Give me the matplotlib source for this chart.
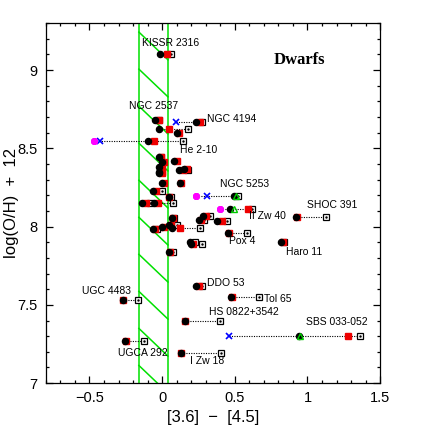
import numpy as np
import matplotlib
matplotlib.use("Agg")
import matplotlib.pyplot as plt
from matplotlib.ticker import MultipleLocator

nan = np.nan

# metallicity of each dwarf and its [3.6]-[4.5] colour from the different estimates
oh = [9.10, 8.68, 8.67, 8.625, 8.60, 8.55, 8.444, 8.42, 8.41, 8.38,
      8.36, 8.37, 8.35, 8.34, 8.28, 8.28, 8.23, 8.19, 8.15, 8.15,
      8.196, 8.111, 8.068, 8.043, 8.034, 8.06, 8.053, 8.01, 8.0, 7.993,
      7.985, 7.962, 7.90, 7.89, 7.90, 7.84, 7.62, 7.552, 7.398, 7.30,
      7.19, 7.53, 7.27]
col_black = [-0.014, -0.046, 0.232, -0.02, 0.10, -0.097, -0.025, 0.08, -0.002, -0.023,
             0.117, 0.15, -0.02, -0.025, 0.0, 0.12, -0.064, 0.045, -0.136, -0.057,
             0.494, 0.467, 0.278, 0.253, 0.379, 0.92, 0.065, 0.045, 0.0, 0.07,
             -0.06, 0.455, 0.191, 0.20, 0.82, 0.045, 0.232, 0.474, 0.154, 0.94,
             0.129, -0.271, -0.255]
col_red = [0.03, -0.023, 0.26, 0.044, 0.113, -0.055, -0.01, 0.099, 0.016, 0.0,
           0.145, 0.17, -0.003, 0.0, 0.012, 0.13, -0.04, 0.05, -0.11, -0.03,
           nan, 0.593, 0.30, 0.27, 0.409, 0.925, 0.075, 0.06, 0.015, 0.12,
           -0.05, 0.46, nan, 0.21, 0.83, 0.055, 0.255, 0.478, 0.158, 1.28,
           0.133, -0.266, -0.25]
col_open = [0.062, -0.02, 0.274, 0.18, nan, 0.145, -0.005, nan, nan, nan,
            0.18, nan, nan, nan, nan, nan, -0.003, 0.058, -0.085, 0.076,
            0.524, 0.621, 0.33, 0.29, 0.444, 1.13, 0.08, 0.10, nan, 0.26,
            -0.035, 0.582, 0.223, 0.271, 0.84, 0.078, 0.273, 0.67, 0.40, 1.36,
            0.402, -0.168, -0.124]
# extra estimates, only for a few galaxies
extra_oh = {"green": [8.196, 8.111, 7.30],
            "blue": [8.67, 8.55, 8.196, 7.30],
            "magenta": [8.55, 8.196, 8.111]}
extra_col = {"green": [0.51, 0.497, 0.95],
             "blue": [0.092, -0.425, 0.306, 0.46],
             "magenta": [-0.471, 0.232, 0.398]}

names = ["KISSR 2316", "NGC 2537", "NGC 4194", "He 2-10", "NGC 5253", "SHOC 391",
         "II Zw 40", "Pox 4", "Haro 11", "DDO 53", "Tol 65", "UGC 4483",
         "HS 0822+3542", "SBS 033-052", "UGCA 292", "I Zw 18"]
name_x = [-0.138, -0.23, 0.306, 0.122, 0.398, 0.995, 0.60, 0.457, 0.853, 0.306,
          0.703, -0.549, 0.324, 0.991, -0.303, 0.191]
name_y = [9.174, 8.768, 8.689, 8.491, 8.271, 8.141, 8.068, 7.908, 7.84, 7.637,
          7.537, 7.588, 7.456, 7.388, 7.195, 7.14]

band = (-0.16, 0.04)

fig = plt.figure(figsize=(4.29, 4.29), dpi=100)
ax = fig.add_axes([0.107, 0.107, 0.779, 0.839])

# green hatched band
for xb in band:
    ax.axvline(xb, color="#00e000", lw=1.1, zorder=1)
for k in range(11):
    y0 = 9.243 - k * 0.2367
    ax.plot(band, [y0, y0 - 0.177], color="#00e000", lw=1.1, zorder=1)

# dotted connectors
for i in range(len(oh)):
    xs = [col_black[i], col_red[i], col_open[i]]
    for key in extra_oh:
        for yy, xx in zip(extra_oh[key], extra_col[key]):
            if yy == oh[i]:
                xs.append(xx)
    xs = [v for v in xs if not np.isnan(v)]
    ax.plot([min(xs), max(xs)], [oh[i], oh[i]], ls=(0, (1, 1.2)), color="black",
            lw=0.8, zorder=2)

ax.plot(col_open, oh, ls="none", marker="s", ms=4.2, mfc="white", mec="black",
        mew=0.9, zorder=3)
ax.plot(col_open, oh, ls="none", marker=".", ms=1.5, color="black", zorder=3)
ax.plot(col_red, oh, ls="none", marker="s", ms=4.0, color="#ee0000", zorder=4)
ax.plot(col_black, oh, ls="none", marker="o", ms=4.4, color="black", zorder=5)
ax.plot(extra_col["green"], extra_oh["green"], ls="none", marker="^", ms=4.2,
        mfc="none", mec="#00cc00", mew=1.0, zorder=6)
ax.plot(extra_col["blue"], extra_oh["blue"], ls="none", marker="x", ms=4.2,
        color="blue", mew=1.2, zorder=6)
ax.plot(extra_col["magenta"], extra_oh["magenta"], ls="none", marker=(8, 2, 0),
        ms=5, color="magenta", mew=1.4, zorder=6)

for n, tx, ty in zip(names, name_x, name_y):
    ax.text(tx, ty, n, fontsize=7.5, family="Liberation Sans", ha="left",
            va="center", zorder=7)
ax.text(0.766, 9.067, "Dwarfs", fontsize=12, family="Liberation Serif",
        fontweight="bold", ha="left", va="center")

ax.set_xlim(-0.8, 1.5)
ax.set_ylim(7, 9.3)
ax.xaxis.set_major_locator(MultipleLocator(0.5))
ax.xaxis.set_minor_locator(MultipleLocator(0.1))
ax.yaxis.set_major_locator(MultipleLocator(0.5))
ax.yaxis.set_minor_locator(MultipleLocator(0.1))
ax.set_xticks([-0.5, 0, 0.5, 1, 1.5])
ax.set_xticklabels(["\u22120.5", "0", "0.5", "1", "1.5"])
ax.set_yticks([7, 7.5, 8, 8.5, 9])
ax.set_yticklabels(["7", "7.5", "8", "8.5", "9"])
ax.tick_params(which="both", direction="in", top=True, right=True, width=0.9)
ax.tick_params(which="major", length=5, pad=6, labelsize=10.5)
ax.tick_params(which="minor", length=2.5)
for lab in ax.get_xticklabels() + ax.get_yticklabels():
    lab.set_family("Liberation Sans")
for s in ax.spines.values():
    s.set_linewidth(0.9)

ax.set_xlabel("[3.6]  \u2212  [4.5]", fontsize=12, family="Liberation Sans", labelpad=3)
ax.set_ylabel("log(O/H)  +  12", fontsize=12, family="Liberation Sans", labelpad=0)
ax.yaxis.set_label_coords(-0.08, 0.5)

fig.savefig("out.png", dpi=100)
